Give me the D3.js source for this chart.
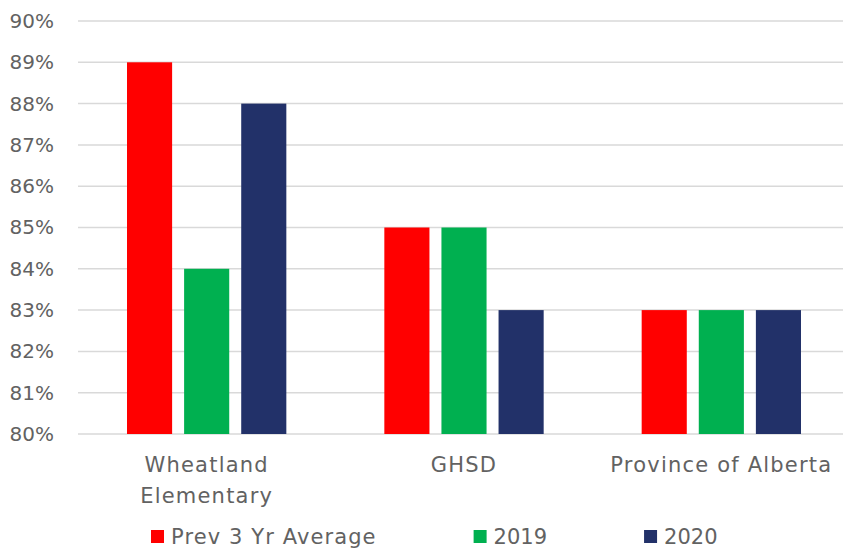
<!DOCTYPE html>
<html>
<head>
<meta charset="utf-8">
<script src="https://cdn.jsdelivr.net/npm/d3@7"></script>
<style>
  body { margin: 0; background: #fff; }
  text { font-family: "Century Gothic", "DejaVu Sans", sans-serif; fill: #626262; }
</style>
</head>
<body>
<div id="chart"></div>
<script>
// Chart data
var categories = ["Wheatland Elementary", "GHSD", "Province of Alberta"];
var seriesNames = ["Prev 3 Yr Average", "2019", "2020"];
var prevAvg = [89, 85, 83];
var y2019 = [84, 85, 83];
var y2020 = [88, 83, 83];
var yTicks = [80, 81, 82, 83, 84, 85, 86, 87, 88, 89, 90];
var colors = ["#ff0000", "#00b050", "#223169"];

var width = 843, height = 550;

var svg = d3.select("#chart")
    .append("svg")
    .attr("width", width)
    .attr("height", height);

var x0 = d3.scaleBand().domain(categories).range([78, 850]);
var x1 = d3.scaleBand().domain(seriesNames)
    .range([49, x0.bandwidth() - 49])
    .paddingInner(0.21);
var y = d3.scaleLinear().domain([80, 90]).range([434, 21]);

// gridlines
svg.append("g")
    .selectAll("line")
    .data(yTicks)
    .enter()
    .append("line")
    .attr("x1", 78)
    .attr("x2", width)
    .attr("y1", function (d) { return y(d); })
    .attr("y2", function (d) { return y(d); })
    .attr("stroke", "#d9d9d9")
    .attr("stroke-width", 1.5);

// y axis labels
var yAxis = svg.append("g")
    .attr("transform", "translate(56,0)")
    .call(d3.axisLeft(y).tickValues(yTicks).tickSize(0).tickPadding(2)
        .tickFormat(function (d) { return d + "%"; }));
yAxis.select(".domain").remove();
yAxis.selectAll("text")
    .attr("font-size", "20px")
    .attr("font-family", null)
    .attr("fill", null);

// bars
var table = categories.map(function (c, i) {
    return { cat: c, values: [prevAvg[i], y2019[i], y2020[i]] };
});

var groups = svg.selectAll(".group")
    .data(table)
    .enter()
    .append("g")
    .attr("class", "group")
    .attr("transform", function (d) { return "translate(" + x0(d.cat) + ",0)"; });

groups.selectAll("rect")
    .data(function (d) {
        return d.values.map(function (v, j) { return { name: seriesNames[j], value: v, color: colors[j] }; });
    })
    .enter()
    .append("rect")
    .attr("x", function (d) { return x1(d.name); })
    .attr("width", x1.bandwidth())
    .attr("y", function (d) { return y(d.value); })
    .attr("height", function (d) { return y(80) - y(d.value); })
    .attr("fill", function (d) { return d.color; });

// category labels
var catLabels = {
    "Wheatland Elementary": ["Wheatland", "Elementary"],
    "GHSD": ["GHSD"],
    "Province of Alberta": ["Province of Alberta"]
};
svg.append("g")
    .selectAll("text")
    .data(categories)
    .enter()
    .append("text")
    .attr("x", function (d) { return x0(d) + x0.bandwidth() / 2; })
    .attr("y", 472)
    .attr("text-anchor", "middle")
    .attr("font-size", "21px")
    .attr("letter-spacing", "1.2px")
    .each(function (d) {
        var t = d3.select(this);
        catLabels[d].forEach(function (line, k) {
            t.append("tspan")
                .attr("x", x0(d) + x0.bandwidth() / 2)
                .attr("dy", k === 0 ? 0 : 31)
                .text(line);
        });
    });

// legend
var legend = svg.append("g").attr("transform", "translate(151,530)");
var lx = 0;
seriesNames.forEach(function (name, i) {
    var item = legend.append("g").attr("transform", "translate(" + lx + ",0)");
    item.append("rect")
        .attr("width", 13)
        .attr("height", 13)
        .attr("fill", colors[i]);
    var txt = item.append("text")
        .attr("x", 20)
        .attr("y", 14)
        .attr("font-size", "21px")
        .attr("letter-spacing", i === 0 ? "1.1px" : "0px")
        .text(name);
    lx += 20 + txt.node().getComputedTextLength() + 97;
});
</script>
</body>
</html>
